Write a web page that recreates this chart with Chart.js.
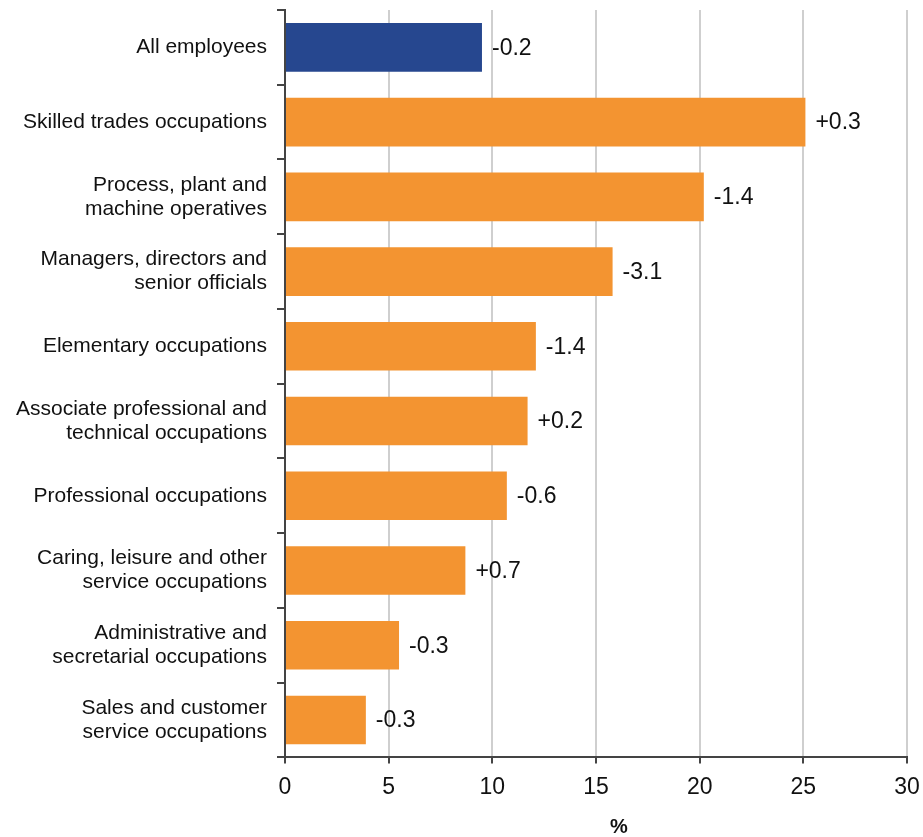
<!DOCTYPE html>
<html lang="en">
<head>
    <meta charset="UTF-8">
    <title>Occupations</title>
    <style>
        body { margin: 0; background: #fff; }
        #wrap { width: 923px; height: 837px; }
    </style>
</head>
<body>
    <div id="wrap"><canvas id="myChart" width="923" height="837"></canvas></div>

    <script src="https://cdn.jsdelivr.net/npm/chart.js@4/dist/chart.umd.min.js"></script>
    <script>
        // categories (multi-line labels)
        const categories = [
            ['All employees'],
            ['Skilled trades occupations'],
            ['Process, plant and', 'machine operatives'],
            ['Managers, directors and', 'senior officials'],
            ['Elementary occupations'],
            ['Associate professional and', 'technical occupations'],
            ['Professional occupations'],
            ['Caring, leisure and other', 'service occupations'],
            ['Administrative and', 'secretarial occupations'],
            ['Sales and customer', 'service occupations']
        ];
        const values = [9.5, 25.1, 20.2, 15.8, 12.1, 11.7, 10.7, 8.7, 5.5, 3.9];
        const changes = ['-0.2', '+0.3', '-1.4', '-3.1', '-1.4', '+0.2', '-0.6', '+0.7', '-0.3', '-0.3'];
        const xTicks = [0, 5, 10, 15, 20, 25, 30];

        const navy = '#26478F';
        const orange = '#F39431';
        const FONT = '"Liberation Sans", Arial, sans-serif';

        // text after each bar, and the "%" unit a little right of centre
        const valueLabels = {
            id: 'valueLabels',
            afterDatasetsDraw(chart) {
                const ctx = chart.ctx;
                const meta = chart.getDatasetMeta(0);
                ctx.save();
                ctx.font = '23px ' + FONT;
                ctx.fillStyle = '#111';
                ctx.textAlign = 'left';
                ctx.textBaseline = 'middle';
                meta.data.forEach((bar, i) => {
                    ctx.fillText(changes[i], bar.x + 10, bar.y + 1);
                });
                const x = chart.scales.x;
                ctx.font = 'bold 20px ' + FONT;
                ctx.textAlign = 'center';
                ctx.fillText('%', (x.left + x.right) / 2 + 23, 827);
                ctx.restore();
            }
        };

        const ctx = document.getElementById('myChart').getContext('2d');
        const myChart = new Chart(ctx, {
            type: 'bar',
            data: {
                labels: categories,
                datasets: [{
                    data: values,
                    backgroundColor: values.map((v, i) => i === 0 ? navy : orange),
                    borderWidth: 0,
                    barPercentage: 0.65,
                    categoryPercentage: 1
                }]
            },
            options: {
                indexAxis: 'y',
                responsive: false,
                animation: false,
                layout: { padding: { top: 10, right: 0, bottom: 0, left: 0 } },
                scales: {
                    x: {
                        min: 0,
                        max: 30,
                        afterBuildTicks(scale) {
                            scale.ticks = xTicks.map(v => ({ value: v }));
                        },
                        afterFit(scale) {
                            scale.paddingRight = 16;
                        },
                        grid: {
                            color: '#cfcfcf',
                            lineWidth: 2,
                            tickColor: '#444',
                            tickLength: 6
                        },
                        border: { color: '#444', width: 2 },
                        ticks: {
                            color: '#111',
                            padding: 10,
                            font: { family: FONT, size: 23 }
                        },
                        title: {
                            display: true,
                            text: '%',
                            color: 'rgba(0,0,0,0)',
                            padding: { top: 2, bottom: 0 },
                            font: { family: FONT, size: 20, weight: 'bold' }
                        }
                    },
                    y: {
                        afterFit(scale) {
                            scale.width = 285;
                            scale.paddingTop = 0;
                            scale.paddingBottom = 0;
                        },
                        grid: {
                            drawOnChartArea: false,
                            color: '#444',
                            lineWidth: 2,
                            tickLength: 8
                        },
                        border: { color: '#444', width: 2 },
                        ticks: {
                            color: '#111',
                            padding: 10,
                            font: { family: FONT, size: 21, lineHeight: 1.15 }
                        }
                    }
                },
                plugins: {
                    legend: { display: false },
                    tooltip: { enabled: false }
                }
            },
            plugins: [valueLabels]
        });
    </script>
</body>
</html>
